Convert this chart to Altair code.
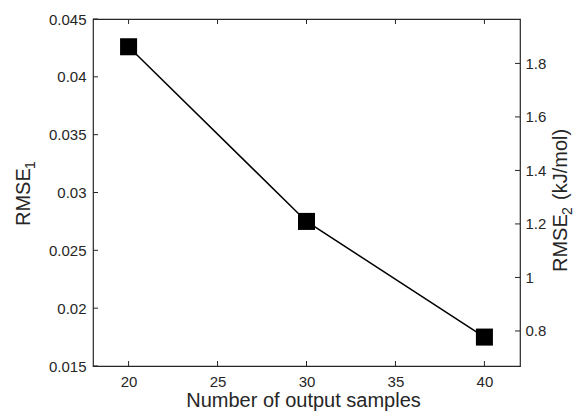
import altair as alt
import pandas as pd

samples = [20, 30, 40]
rmse1 = [0.0426, 0.0275, 0.0175]
rmse2 = [1.862, 1.204, 0.772]
x_ticks = [20, 25, 30, 35, 40]
left_ticks = [0.015, 0.02, 0.025, 0.03, 0.035, 0.04, 0.045]
right_ticks = [0.8, 1.0, 1.2, 1.4, 1.6, 1.8]
x_title = "Number of output samples"
left_title = ["RMSE", "1"]
right_title = ["RMSE", "2", "(kJ/mol)"]

df = pd.DataFrame({"samples": samples, "rmse1": rmse1, "rmse2": rmse2})
xt = pd.DataFrame({"v": x_ticks})
lt = pd.DataFrame({"v": left_ticks})
rt = pd.DataFrame({"v": right_ticks})
one = pd.DataFrame({"k": [0]})

FONT = "Liberation Sans"
TXT = "#262626"
W, H = 427, 347

xscale = alt.Scale(domain=[18, 42], nice=False, zero=False)
lscale = alt.Scale(domain=[0.015, 0.045], nice=False, zero=False)
rscale = alt.Scale(domain=[0.669, 1.966], nice=False, zero=False)
common = dict(grid=False, domain=False, ticks=False,
              labelFont=FONT, labelFontSize=15, labelColor=TXT,
              format="~g", title="")

x_bottom = alt.X("samples:Q", scale=xscale,
                 axis=alt.Axis(values=x_ticks, orient="bottom",
                               labelPadding=8, **common))
y_left = alt.Y("rmse1:Q", scale=lscale,
               axis=alt.Axis(values=left_ticks, orient="left",
                             labelPadding=7, **common))

line = alt.Chart(df).mark_line(color="black", strokeWidth=1.5).encode(x=x_bottom, y=y_left)
pts = alt.Chart(df).mark_square(size=290, color="black", opacity=1).encode(x=x_bottom, y=y_left)
left = alt.layer(line, pts)

y_right = alt.Y("rmse2:Q", scale=rscale,
                axis=alt.Axis(values=right_ticks, orient="right",
                              labelPadding=5, **common))
right = alt.Chart(df).mark_point(opacity=0).encode(
    x=alt.X("samples:Q", scale=xscale, axis=None), y=y_right)

rule = dict(color=TXT, strokeWidth=1)
bt = alt.Chart(xt).mark_rule(**rule).encode(
    x=alt.X("v:Q", scale=xscale, axis=None), y=alt.value(H), y2=alt.value(H - 5))
tt = alt.Chart(xt).mark_rule(**rule).encode(
    x=alt.X("v:Q", scale=xscale, axis=None), y=alt.value(0), y2=alt.value(5))
ltk = alt.Chart(lt).mark_rule(**rule).encode(
    y=alt.Y("v:Q", scale=lscale, axis=None), x=alt.value(0), x2=alt.value(5))
rtk = alt.Chart(rt).mark_rule(**rule).encode(
    y=alt.Y("v:Q", scale=rscale, axis=None), x=alt.value(W), x2=alt.value(W - 5))


def label(txt, x, y, size, angle=270, align="left"):
    return alt.Chart(one).mark_text(
        text=txt, font=FONT, fontSize=size, color=TXT, angle=angle,
        align=align, baseline="alphabetic"
    ).encode(x=alt.value(x), y=alt.value(y))


titles = [
    label(x_title, 210.5, 388, 20, angle=0, align="center"),
    label(left_title[0], -63, 207, 20),
    label(left_title[1], -58.5, 150, 14),
    label(right_title[0], 474, 253, 20),
    label(right_title[1], 478.5, 196, 14),
    label(right_title[2], 474, 181, 20),
]

chart = alt.layer(left, right, bt, tt, ltk, rtk, *titles).resolve_scale(
    x="independent", y="independent"
).properties(
    width=W, height=H,
    autosize=alt.AutoSizeParams(type="none"),
    padding={"left": 85, "top": 11, "right": 54, "bottom": 45},
).configure_view(stroke=TXT, strokeWidth=1.2)

chart.save("out.html", embed_options={"renderer": "svg", "actions": False})
